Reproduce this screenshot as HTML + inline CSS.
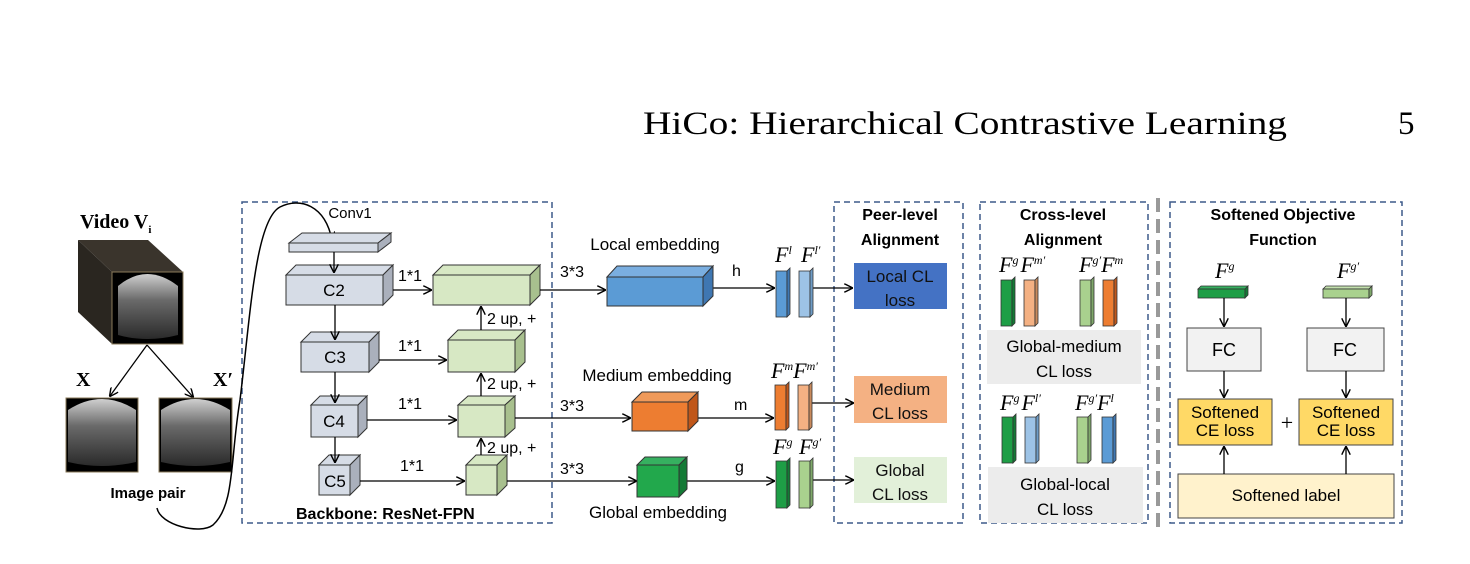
<!DOCTYPE html>
<html><head><meta charset="utf-8"><style>
html,body{margin:0;padding:0;background:#fff;}
svg{display:block;}
text{font-family:"Liberation Sans",sans-serif;}
text.s{font-family:"Liberation Serif",serif;}
.f text,.f tspan{font-family:"Liberation Serif",serif;font-style:italic;font-size:22px;}
.f tspan.sp{font-size:12px;}
</style></head><body>
<svg width="1470" height="564" viewBox="0 0 1470 564" xmlns="http://www.w3.org/2000/svg">
<defs>
<marker id="a" viewBox="0 0 10 10" refX="9" refY="5" markerWidth="9" markerHeight="9" orient="auto" markerUnits="userSpaceOnUse"><path d="M0,0 L10,5 L0,10" fill="none" stroke="#000" stroke-width="1.6"/></marker>
<linearGradient id="img" x1="0" y1="0" x2="0" y2="1"><stop offset="0" stop-color="#cfcfcf"/><stop offset="0.4" stop-color="#6a6a6a"/><stop offset="1" stop-color="#2a2a2a"/></linearGradient>
</defs>
<rect width="1470" height="564" fill="#fff"/>
<text x="643" y="134" class="s" font-size="33" textLength="644" lengthAdjust="spacingAndGlyphs">HiCo: Hierarchical Contrastive Learning</text>
<text x="1398" y="134" class="s" font-size="33">5</text>

<g fill="none" stroke="#3d5a8a" stroke-width="1.5" stroke-dasharray="6,4">
<rect x="242" y="202" width="310" height="321"/>
<rect x="834" y="202" width="129" height="321"/>
<rect x="980" y="202" width="168" height="321"/>
<rect x="1170" y="202" width="232" height="321"/>
</g>
<line x1="1158" y1="198" x2="1158" y2="530" stroke="#999" stroke-width="4" stroke-dasharray="14,7"/>

<text x="80" y="228" class="s" font-size="20" font-weight="bold">Video V<tspan font-size="11" dy="5">i</tspan></text>
<polygon points="78,240 148,240 183,272 112,272" fill="#3a342c"/>
<polygon points="78,240 112,272 112,344 78,312" fill="#2a2620"/>
<rect x="112" y="272" width="71" height="72" fill="#000" stroke="#8a7a5a"/>
<path d="M118,286 Q147,262 178,286 L178,335 Q147,343 118,335 Z" fill="url(#img)"/>
<line x1="147" y1="345" x2="110" y2="396" stroke="#000" stroke-width="1.3" marker-end="url(#a)"/>
<line x1="147" y1="345" x2="193" y2="397" stroke="#000" stroke-width="1.3" marker-end="url(#a)"/>
<text x="76" y="386" class="s" font-size="20" font-weight="bold">X</text>
<text x="213" y="386" class="s" font-size="20" font-weight="bold">X′</text>
<rect x="66" y="398" width="72" height="74" fill="#000" stroke="#8a7a5a"/>
<path d="M68,410 Q102,388 136,410 L136,462 Q102,470 68,462 Z" fill="url(#img)"/>
<rect x="159" y="398" width="73" height="74" fill="#000" stroke="#8a7a5a"/>
<path d="M161,410 Q195,388 230,410 L230,462 Q195,470 161,462 Z" fill="url(#img)"/>
<text x="148" y="498" font-size="15" font-weight="bold" text-anchor="middle">Image pair</text>
<path d="M157,508 C160,525 200,535 213,525 C235,505 230,460 240,400 C250,320 255,220 280,207 C300,197 325,205 332,240" fill="none" stroke="#000" stroke-width="1.5" marker-end="url(#a)"/>

<text x="350" y="218" font-size="15" text-anchor="middle">Conv1</text>
<g stroke="#333" stroke-width="1" fill="#d6dce6">
<polygon points="289,243 302,233 391,233 378,243"/>
<polygon points="378,243 391,233 391,242 378,252" fill="#aab0bc"/>
<rect x="289" y="243" width="89" height="9"/>
<polygon points="286,275 296,265 393,265 383,275"/><polygon points="383,275 393,265 393,295 383,305" fill="#aab0bc"/><rect x="286" y="275" width="97" height="30"/>
<polygon points="301,342 311,332 379,332 369,342"/><polygon points="369,342 379,332 379,362 369,372" fill="#aab0bc"/><rect x="301" y="342" width="68" height="30"/>
<polygon points="311,405 320,396 367,396 358,405"/><polygon points="358,405 367,396 367,428 358,437" fill="#aab0bc"/><rect x="311" y="405" width="47" height="32"/>
<polygon points="319,465 329,455 360,455 350,465"/><polygon points="350,465 360,455 360,485 350,495" fill="#aab0bc"/><rect x="319" y="465" width="31" height="30"/>
</g>
<g font-size="17" text-anchor="middle"><text x="334" y="296">C2</text><text x="335" y="363">C3</text><text x="334" y="427">C4</text><text x="335" y="487">C5</text></g>
<g fill="#d7e8c4" stroke="#333" stroke-width="1">
<polygon points="433,275 443,265 540,265 530,275"/><polygon points="530,275 540,265 540,295 530,305" fill="#a8c08e"/><rect x="433" y="275" width="97" height="30"/>
<polygon points="448,340 458,330 525,330 515,340"/><polygon points="515,340 525,330 525,362 515,372" fill="#a8c08e"/><rect x="448" y="340" width="67" height="32"/>
<polygon points="458,405 468,396 515,396 505,405"/><polygon points="505,405 515,396 515,428 505,437" fill="#a8c08e"/><rect x="458" y="405" width="47" height="32"/>
<polygon points="466,465 476,455 507,455 497,465"/><polygon points="497,465 507,455 507,485 497,495" fill="#a8c08e"/><rect x="466" y="465" width="31" height="30"/>
</g>
<g stroke="#000" stroke-width="1.3" fill="none" marker-end="url(#a)">
<line x1="334" y1="252" x2="334" y2="272"/>
<line x1="335" y1="305" x2="335" y2="339"/>
<line x1="335" y1="372" x2="335" y2="402"/>
<line x1="335" y1="437" x2="335" y2="462"/>
<line x1="393" y1="290" x2="431" y2="290"/>
<line x1="379" y1="360" x2="446" y2="360"/>
<line x1="367" y1="420" x2="456" y2="420"/>
<line x1="360" y1="481" x2="464" y2="481"/>
<line x1="481" y1="330" x2="481" y2="307"/>
<line x1="481" y1="396" x2="481" y2="374"/>
<line x1="481" y1="455" x2="481" y2="439"/>
</g>
<g font-size="16"><text x="398" y="281">1*1</text><text x="398" y="351">1*1</text><text x="398" y="409">1*1</text><text x="400" y="471">1*1</text>
<text x="487" y="324">2 up, +</text><text x="487" y="389">2 up, +</text><text x="487" y="453">2 up, +</text></g>
<text x="296" y="519" font-size="16" font-weight="bold">Backbone: ResNet-FPN</text>

<g stroke="#000" stroke-width="1.3" fill="none" marker-end="url(#a)">
<line x1="540" y1="290" x2="605" y2="290"/>
<line x1="703" y1="288" x2="774" y2="288"/>
<line x1="813" y1="288" x2="852" y2="288"/>
<line x1="515" y1="418" x2="630" y2="418"/>
<line x1="688" y1="418" x2="773" y2="418"/>
<line x1="812" y1="403" x2="853" y2="403"/>
<line x1="507" y1="481" x2="636" y2="481"/>
<line x1="679" y1="481" x2="774" y2="481"/>
<line x1="813" y1="480" x2="853" y2="480"/>
</g>
<g font-size="16"><text x="560" y="277">3*3</text><text x="560" y="411">3*3</text><text x="560" y="474">3*3</text>
<text x="732" y="276">h</text><text x="734" y="410">m</text><text x="735" y="472">g</text></g>
<g font-size="17" text-anchor="middle"><text x="655" y="250">Local embedding</text><text x="657" y="381">Medium embedding</text><text x="658" y="518">Global embedding</text></g>
<g stroke="#333" stroke-width="1">
<polygon points="607,277 617,266 713,266 703,277" fill="#7aaee0"/><polygon points="703,277 713,266 713,296 703,306" fill="#3f77b2"/><rect x="607" y="277" width="96" height="29" fill="#5b9bd5"/>
<polygon points="632,402 642,392 698,392 688,402" fill="#f09a5a"/><polygon points="688,402 698,392 698,421 688,431" fill="#c0571a"/><rect x="632" y="402" width="56" height="29" fill="#ed7d31"/>
<polygon points="637,465 645,457 687,457 679,465" fill="#36b060"/><polygon points="679,465 687,457 687,489 679,497" fill="#137a35"/><rect x="637" y="465" width="42" height="32" fill="#22a84c"/>
</g>
<g stroke="#333" stroke-width="0.8">
<rect x="776" y="271" width="11" height="46" fill="#5b9bd5"/><polygon points="787,271 790,268 790,314 787,317" fill="#3f77b2"/>
<rect x="799" y="271" width="11" height="46" fill="#9dc3e6"/><polygon points="810,271 813,268 813,314 810,317" fill="#6f9cc6"/>
<rect x="775" y="385" width="11" height="45" fill="#ed7d31"/><polygon points="786,385 789,382 789,427 786,430" fill="#c0571a"/>
<rect x="798" y="385" width="11" height="45" fill="#f4b183"/><polygon points="809,385 812,382 812,427 809,430" fill="#c98a5c"/>
<rect x="776" y="461" width="11" height="47" fill="#1e9e46"/><polygon points="787,461 790,458 790,505 787,508" fill="#137a35"/>
<rect x="799" y="461" width="11" height="47" fill="#a9d18e"/><polygon points="810,461 813,458 813,505 810,508" fill="#7fa86a"/>
</g>
<g class="f"><text x="775" y="262">F<tspan class="sp" dy="-8">l</tspan></text><text x="801" y="262">F<tspan class="sp" dy="-8">l′</tspan></text>
<text x="771" y="378">F<tspan class="sp" dy="-8">m</tspan><tspan dy="8">F</tspan><tspan class="sp" dy="-8">m′</tspan></text>
<text x="773" y="454">F<tspan class="sp" dy="-8">g</tspan></text><text x="799" y="454">F<tspan class="sp" dy="-8">g′</tspan></text></g>

<g font-size="16" font-weight="bold" text-anchor="middle"><text x="900" y="220">Peer-level</text><text x="900" y="245">Alignment</text></g>
<rect x="854" y="263" width="93" height="46" fill="#4472c4"/>
<rect x="854" y="376" width="93" height="47" fill="#f4b183"/>
<rect x="854" y="457" width="93" height="46" fill="#e2f0d9"/>
<g font-size="17" text-anchor="middle" fill="#111"><text x="900" y="282">Local CL</text><text x="900" y="306">loss</text>
<text x="900" y="395">Medium</text><text x="900" y="419">CL loss</text>
<text x="900" y="476">Global</text><text x="900" y="500">CL loss</text></g>

<g font-size="16" font-weight="bold" text-anchor="middle"><text x="1063" y="220">Cross-level</text><text x="1063" y="245">Alignment</text></g>
<g stroke="#333" stroke-width="0.8">
<rect x="1001" y="280" width="11" height="46" fill="#1e9e46"/><polygon points="1012,280 1015,277 1015,323 1012,326" fill="#137a35"/>
<rect x="1024" y="280" width="11" height="46" fill="#f4b183"/><polygon points="1035,280 1038,277 1038,323 1035,326" fill="#c98a5c"/>
<rect x="1080" y="280" width="11" height="46" fill="#a9d18e"/><polygon points="1091,280 1094,277 1094,323 1091,326" fill="#7fa86a"/>
<rect x="1103" y="280" width="11" height="46" fill="#ed7d31"/><polygon points="1114,280 1117,277 1117,323 1114,326" fill="#c0571a"/>
<rect x="1002" y="417" width="11" height="46" fill="#1e9e46"/><polygon points="1013,417 1016,414 1016,460 1013,463" fill="#137a35"/>
<rect x="1025" y="417" width="11" height="46" fill="#9dc3e6"/><polygon points="1036,417 1039,414 1039,460 1036,463" fill="#6f9cc6"/>
<rect x="1077" y="417" width="11" height="46" fill="#a9d18e"/><polygon points="1088,417 1091,414 1091,460 1088,463" fill="#7fa86a"/>
<rect x="1102" y="417" width="11" height="46" fill="#5b9bd5"/><polygon points="1113,417 1116,414 1116,460 1113,463" fill="#3f77b2"/>
</g>
<g class="f"><text x="999" y="272">F<tspan class="sp" dy="-8">g</tspan><tspan dx="2" dy="8">F</tspan><tspan class="sp" dy="-8">m′</tspan></text>
<text x="1079" y="272">F<tspan class="sp" dy="-8">g′</tspan><tspan dy="8">F</tspan><tspan class="sp" dy="-8">m</tspan></text>
<text x="1000" y="410">F<tspan class="sp" dy="-8">g</tspan><tspan dx="2" dy="8">F</tspan><tspan class="sp" dy="-8">l′</tspan></text>
<text x="1075" y="410">F<tspan class="sp" dy="-8">g′</tspan><tspan dy="8">F</tspan><tspan class="sp" dy="-8">l</tspan></text></g>
<rect x="987" y="330" width="154" height="54" fill="#ececec"/>
<rect x="988" y="467" width="155" height="56" fill="#ececec"/>
<g font-size="17" text-anchor="middle"><text x="1064" y="352">Global-medium</text><text x="1064" y="377">CL loss</text>
<text x="1065" y="490">Global-local</text><text x="1065" y="515">CL loss</text></g>

<g font-size="16" font-weight="bold" text-anchor="middle"><text x="1283" y="220">Softened Objective</text><text x="1283" y="245">Function</text></g>
<g class="f"><text x="1215" y="278">F<tspan class="sp" dy="-8">g</tspan></text><text x="1337" y="278">F<tspan class="sp" dy="-8">g′</tspan></text></g>
<g stroke="#333" stroke-width="0.8">
<polygon points="1198,289 1201,286 1248,286 1245,289" fill="#36b060"/><rect x="1198" y="289" width="47" height="9" fill="#1e9e46"/><polygon points="1245,289 1248,286 1248,295 1245,298" fill="#137a35"/>
<polygon points="1323,289 1326,286 1372,286 1369,289" fill="#c3e0ad"/><rect x="1323" y="289" width="46" height="9" fill="#a9d18e"/><polygon points="1369,289 1372,286 1372,295 1369,298" fill="#7fa86a"/>
</g>
<rect x="1187" y="328" width="74" height="43" fill="#f2f2f2" stroke="#444"/>
<rect x="1307" y="328" width="77" height="43" fill="#f2f2f2" stroke="#444"/>
<g font-size="18" text-anchor="middle"><text x="1224" y="356">FC</text><text x="1345" y="356">FC</text></g>
<rect x="1178" y="399" width="94" height="46" fill="#ffd966" stroke="#444"/>
<rect x="1299" y="399" width="94" height="46" fill="#ffd966" stroke="#444"/>
<g font-size="17" text-anchor="middle"><text x="1225" y="418">Softened</text><text x="1225" y="436">CE loss</text><text x="1346" y="418">Softened</text><text x="1346" y="436">CE loss</text></g>
<text x="1287" y="430" class="s" font-size="22" text-anchor="middle">+</text>
<rect x="1178" y="474" width="216" height="44" fill="#fff2cc" stroke="#444"/>
<text x="1286" y="501" font-size="17" text-anchor="middle">Softened label</text>
<g stroke="#000" stroke-width="1.3" marker-end="url(#a)">
<line x1="1224" y1="298" x2="1224" y2="326"/><line x1="1346" y1="298" x2="1346" y2="326"/>
<line x1="1224" y1="371" x2="1224" y2="397"/><line x1="1346" y1="371" x2="1346" y2="397"/>
<line x1="1224" y1="474" x2="1224" y2="447"/><line x1="1346" y1="474" x2="1346" y2="447"/>
</g>
</svg>
</body></html>
